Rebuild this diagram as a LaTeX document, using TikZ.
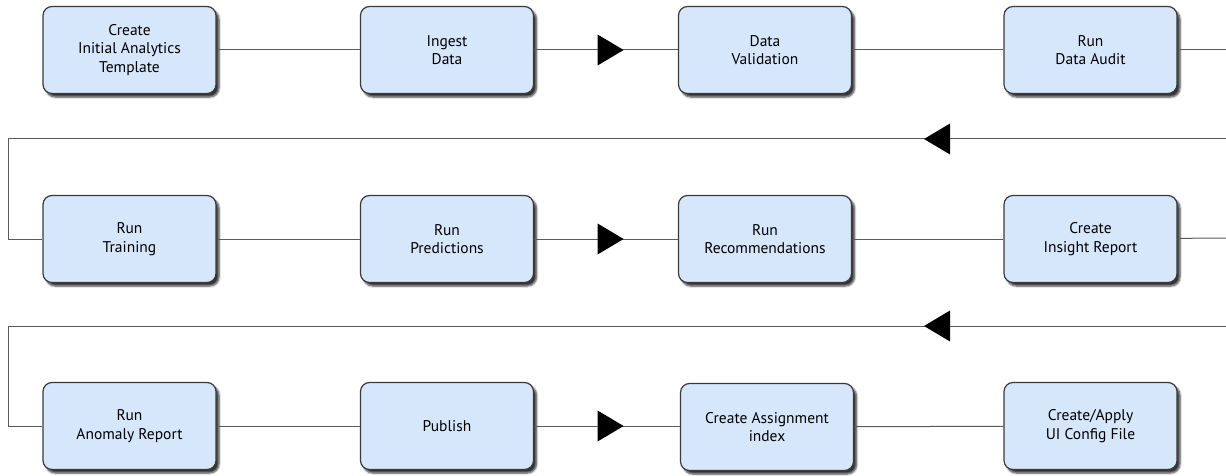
\documentclass[tikz,border=0pt]{standalone}
\usepackage{fontspec}
\setmainfont{PT Sans}
\usetikzlibrary{shadows.blur,decorations.markings}
\definecolor{boxfill}{HTML}{D6E6FB}
\definecolor{boxline}{HTML}{3A3A3A}
\definecolor{wirecol}{HTML}{5A5A5A}

\begin{document}
\begin{tikzpicture}[x=1pt,y=-1pt,
  stepbox/.style={draw=boxline, line width=1.2pt, fill=boxfill,
    rounded corners=9pt, minimum width=173pt, minimum height=87pt,
    align=center, font=\fontsize{15.5}{18.5}\selectfont,
    blur shadow={shadow xshift=3pt, shadow yshift=-3.5pt,
      shadow blur steps=5, shadow opacity=80}},
  wire/.style={draw=wirecol, line width=1pt},
  fwd/.style={postaction=decorate, decoration={markings,
    mark=at position #1 with {\fill[black] (-13pt,-15.5pt) -- (13pt,0pt) -- (-13pt,15.5pt) -- cycle;}}}
]
\useasboundingbox (0,0) rectangle (1226,476);

% row 1
\node[stepbox] (create)   at (129.5,50) {Create\\Initial Analytics\\Template};
\node[stepbox] (ingest)   at (447,50)   {Ingest\\Data};
\node[stepbox] (validate) at (765,50)   {Data\\Validation};
\node[stepbox] (audit)    at (1090.5,50){Run\\Data Audit};

% row 2
\node[stepbox] (training)  at (129.5,239) {Run\\Training};
\node[stepbox] (predict)   at (447,239)   {Run\\Predictions};
\node[stepbox] (recommend) at (765,239)   {Run\\Recommendations};
\node[stepbox] (insight)   at (1090.5,239){Create\\Insight Report};

% row 3
\node[stepbox] (anomaly)  at (129.5,426) {Run\\Anomaly Report};
\node[stepbox] (publish)  at (447,426)   {Publish};
\node[stepbox] (assign)   at (767,427)   {Create Assignment\\index};
\node[stepbox] (uiconfig) at (1090.5,426){Create/Apply\\UI Config File};

% turn points at the edges
\coordinate (r1out) at (1226,50);
\coordinate (r1in)  at (1226,139);
\coordinate (l1)    at (8,139);
\coordinate (r2out) at (1226,238);
\coordinate (r2in)  at (1226,326);
\coordinate (l2)    at (8,326);

% row 1 connectors
\draw[wire] (create) -- (ingest);
\draw[wire, fwd=76.5pt] (ingest) -- (validate);
\draw[wire] (validate) -- (audit);
\draw[wire] (audit) -- (r1out);
\draw[wire, fwd=289pt] (r1in) -- (l1);
\draw[wire] (l1) |- (training);

% row 2 connectors
\draw[wire] (training) -- (predict);
\draw[wire, fwd=76.5pt] (predict) -- (recommend);
\draw[wire] (recommend) -- (insight);
\draw[wire] (insight) -- (r2out);
\draw[wire, fwd=289pt] (r2in) -- (l2);
\draw[wire] (l2) |- (anomaly);

% row 3 connectors
\draw[wire] (anomaly) -- (publish);
\draw[wire, fwd=76.5pt] (publish) -- (publish -| assign.west);
\draw[wire] (assign) -- (uiconfig);
\end{tikzpicture}
\end{document}
